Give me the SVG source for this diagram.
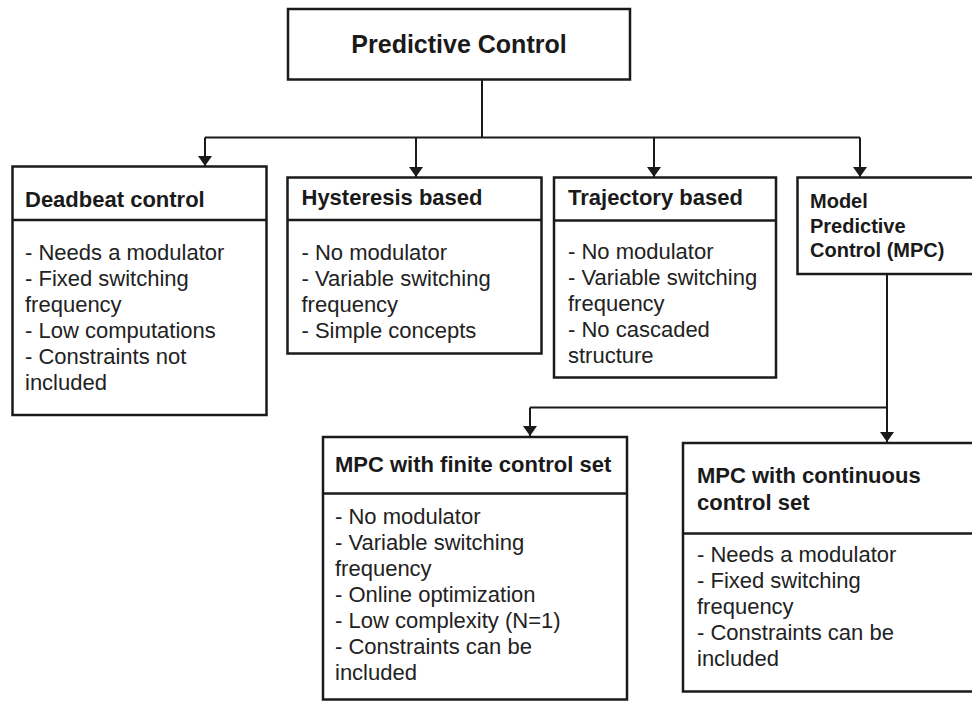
<svg xmlns="http://www.w3.org/2000/svg" width="972" height="702" viewBox="0 0 972 702">
  <defs>
    <style>
      .box { fill: #ffffff; stroke: #1a1a1a; stroke-width: 2.5; }
      .div { stroke: #1a1a1a; stroke-width: 2.5; fill: none; }
      .conn { stroke: #1a1a1a; stroke-width: 2; fill: none; }
      .head { font-family: "Liberation Sans", Arial, sans-serif; font-weight: bold; font-size: 22px; fill: #1a1a1a; }
      .body { font-family: "Liberation Sans", Arial, sans-serif; font-size: 22px; fill: #222222; }
    </style>
    <marker id="arrow" viewBox="0 0 10 14" refX="10" refY="7" markerWidth="10" markerHeight="14" markerUnits="userSpaceOnUse" orient="auto">
      <path d="M0,0 L10,7 L0,14 Z" fill="#1a1a1a"/>
    </marker>
  </defs>
  <rect width="972" height="702" fill="#ffffff"/>

  <!-- connectors -->
  <g id="connectors">
    <path class="conn" d="M482,80 V137.5"/>
    <path class="conn" d="M205,137.5 H860"/>
    <path class="conn" d="M205,137.5 V166" marker-end="url(#arrow)"/>
    <path class="conn" d="M416,137.5 V177" marker-end="url(#arrow)"/>
    <path class="conn" d="M654,137.5 V177" marker-end="url(#arrow)"/>
    <path class="conn" d="M860,137.5 V177" marker-end="url(#arrow)"/>
    <path class="conn" d="M887,274 V442" marker-end="url(#arrow)"/>
    <path class="conn" d="M530,407.5 H887"/>
    <path class="conn" d="M530,407.5 V436" marker-end="url(#arrow)"/>
  </g>

  <!-- root -->
  <g id="predictive-control">
    <rect class="box" x="288" y="9" width="342" height="70.5"/>
    <text x="459" y="53" text-anchor="middle" font-family="Liberation Sans, Arial, sans-serif" font-weight="bold" font-size="25" fill="#1a1a1a">Predictive Control</text>
  </g>

  <g id="deadbeat">
    <rect class="box" x="12.5" y="166.5" width="254" height="248.5"/>
    <line class="div" x1="12.5" y1="220" x2="266.5" y2="220"/>
    <text class="head" x="25" y="207">Deadbeat control</text>
    <text class="body" x="25" y="260">- Needs a modulator</text>
    <text class="body" x="25" y="286">- Fixed switching</text>
    <text class="body" x="25" y="312">frequency</text>
    <text class="body" x="25" y="338">- Low computations</text>
    <text class="body" x="25" y="364">- Constraints not</text>
    <text class="body" x="25" y="390">included</text>
  </g>

  <g id="hysteresis">
    <rect class="box" x="287.5" y="177.5" width="254" height="176"/>
    <line class="div" x1="287.5" y1="220" x2="541.5" y2="220"/>
    <text class="head" x="301.5" y="205">Hysteresis based</text>
    <text class="body" x="301.5" y="260">- No modulator</text>
    <text class="body" x="301.5" y="286">- Variable switching</text>
    <text class="body" x="301.5" y="312">frequency</text>
    <text class="body" x="301.5" y="338">- Simple concepts</text>
  </g>

  <g id="trajectory">
    <rect class="box" x="554" y="177.5" width="222" height="200"/>
    <line class="div" x1="554" y1="220.5" x2="776" y2="220.5"/>
    <text class="head" x="568" y="205">Trajectory based</text>
    <text class="body" x="568" y="259">- No modulator</text>
    <text class="body" x="568" y="285">- Variable switching</text>
    <text class="body" x="568" y="311">frequency</text>
    <text class="body" x="568" y="337">- No cascaded</text>
    <text class="body" x="568" y="363">structure</text>
  </g>

  <g id="mpc">
    <rect class="box" x="797.5" y="177.5" width="180" height="96.5"/>
    <text class="head" font-size="20" x="810" y="208" style="font-size:20px">Model</text>
    <text class="head" x="810" y="232.5" style="font-size:20px">Predictive</text>
    <text class="head" x="810" y="257" style="font-size:20px">Control (MPC)</text>
  </g>

  <g id="mpc-finite">
    <rect class="box" x="323" y="437" width="304" height="262.5"/>
    <line class="div" x1="323" y1="493.5" x2="627" y2="493.5"/>
    <text class="head" x="335" y="471.5">MPC with finite control set</text>
    <text class="body" x="335" y="524">- No modulator</text>
    <text class="body" x="335" y="550">- Variable switching</text>
    <text class="body" x="335" y="576">frequency</text>
    <text class="body" x="335" y="602">- Online optimization</text>
    <text class="body" x="335" y="628">- Low complexity (N=1)</text>
    <text class="body" x="335" y="654">- Constraints can be</text>
    <text class="body" x="335" y="680">included</text>
  </g>

  <g id="mpc-continuous">
    <rect class="box" x="683" y="443" width="294" height="248.5"/>
    <line class="div" x1="683" y1="533.5" x2="977" y2="533.5"/>
    <text class="head" x="697" y="483">MPC with continuous</text>
    <text class="head" x="697" y="510">control set</text>
    <text class="body" x="697" y="562">- Needs a modulator</text>
    <text class="body" x="697" y="588">- Fixed switching</text>
    <text class="body" x="697" y="614">frequency</text>
    <text class="body" x="697" y="640">- Constraints can be</text>
    <text class="body" x="697" y="666">included</text>
  </g>
</svg>
